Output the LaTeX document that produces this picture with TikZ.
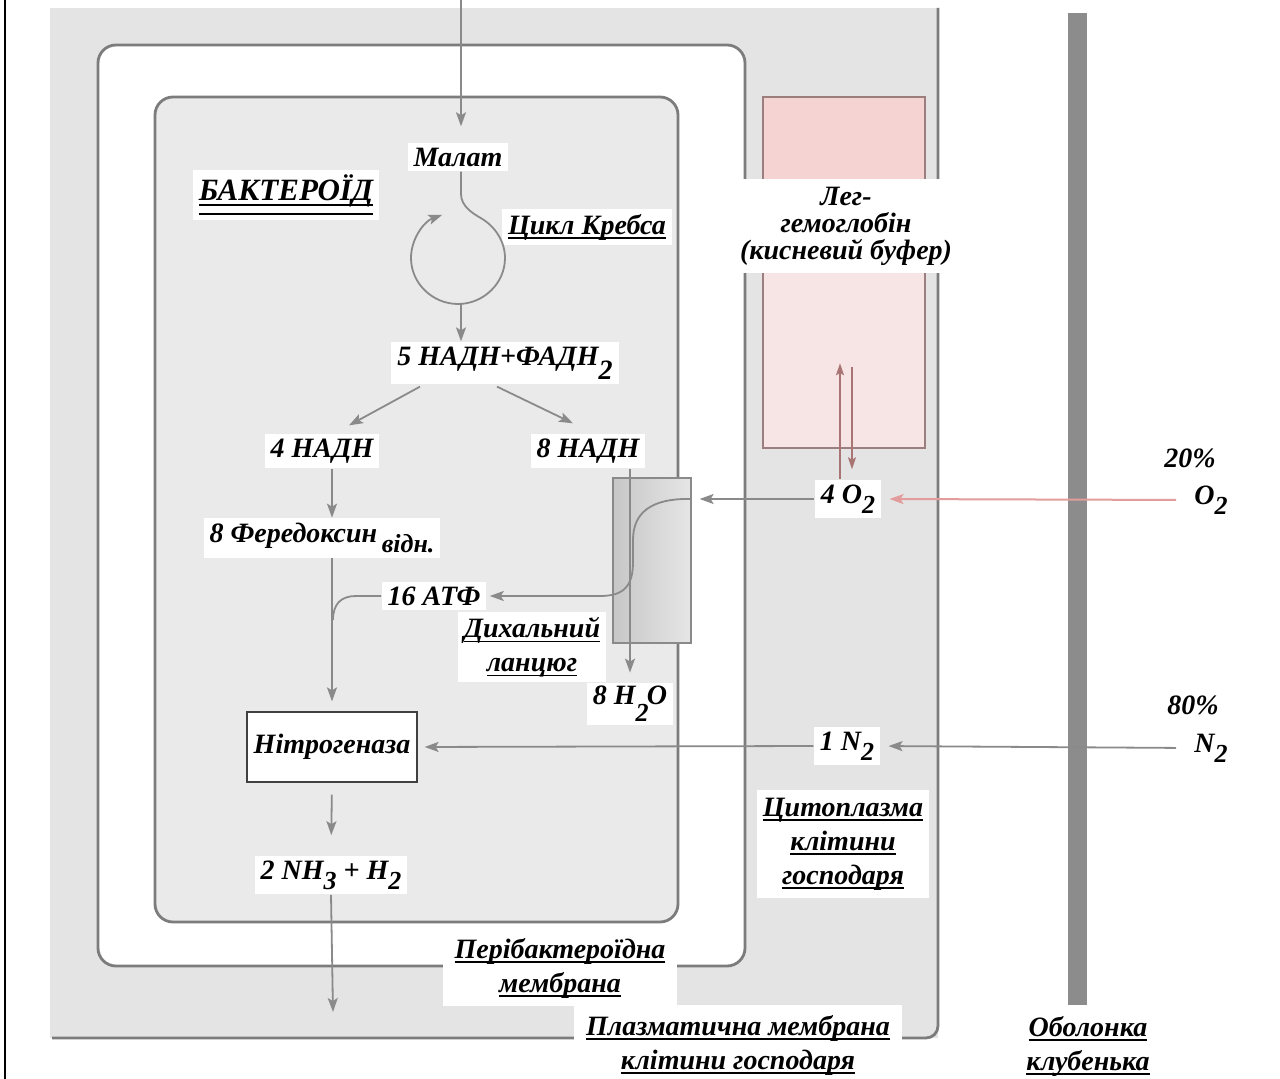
\documentclass[tikz,border=0pt]{standalone}
\usepackage{fontspec}
\setmainfont{Liberation Serif}
\usetikzlibrary{arrows.meta,calc}

\definecolor{hostgray}{HTML}{E4E4E4}
\definecolor{bactgray}{HTML}{EAEAEA}
\definecolor{memgray}{HTML}{7C7C7C}
\definecolor{flowgray}{HTML}{8A8A8A}
\definecolor{shellgray}{HTML}{8C8C8C}
\definecolor{pinktop}{HTML}{F5D3D3}
\definecolor{pinklow}{HTML}{F7E4E4}
\definecolor{pinkedge}{HTML}{9C7E7E}
\definecolor{oxred}{HTML}{E29C9C}
\definecolor{legarrow}{HTML}{A87474}

% label font and helpers
\newcommand\lf{\fontsize{14}{17}\selectfont\bfseries\itshape}
\newcommand\sbx[1]{\raisebox{-0.36em}{\fontsize{13}{13}\selectfont #1}}
\newcommand\sbl[1]{\raisebox{-0.5em}{#1}}
\newcommand\ulin[1]{\setbox0\hbox{#1}\rlap{\rule[-0.18em]{\wd0}{0.065em}}\box0}
\newcommand\dulin[1]{\setbox0\hbox{#1}\rlap{\rule[-0.15em]{\wd0}{0.06em}}\rlap{\rule[-0.45em]{\wd0}{0.06em}}\box0}

\tikzset{
  lbl/.style={fill=white, inner xsep=3pt, inner ysep=2.5pt, font=\lf, align=center},
  mem/.style={draw=memgray, line width=1.4pt},
  flowline/.style={draw=flowgray, line width=0.9pt},
  flow/.style={flowline, -{Stealth[length=7pt,width=5pt,inset=1.5pt]}},
  oxflow/.style={draw=oxred, line width=1pt, -{Stealth[length=7pt,width=5pt,inset=1.5pt]}},
  legflow/.style={draw=legarrow, line width=0.8pt, -{Stealth[length=6pt,width=4pt,inset=1.2pt]}},
}

\begin{document}
\begin{tikzpicture}[x=0.5pt,y=-0.5pt]
\useasboundingbox (0,0) rectangle (1280,1079);
\fill[white] (0,0) rectangle (1280,1079);

% frame line on the left
\draw[black, line width=1.2pt] (5,0) -- (5,1079);

% host cell cytoplasm
\fill[hostgray] (50,8) rectangle (938,1038);
% host plasma membrane
\draw[mem, rounded corners=6pt] (938,8) -- (938,1038) -- (52,1038);

% peribacteroid membrane and bacteroid
\draw[mem, fill=white, rounded corners=9pt] (98,45) rectangle (745,966);
\draw[mem, fill=bactgray, rounded corners=9pt] (155,97) rectangle (678,922);

% leghemoglobin compartment
\fill[pinklow] (763,97) rectangle (925,448);
\fill[pinktop] (763,97) rectangle (925,180);
\draw[pinkedge, line width=0.7pt] (763,97) rectangle (925,448);

% nodule shell
\fill[shellgray] (1068,13) rectangle (1087,1005);

% respiratory chain block
\node[draw=flowgray, line width=0.6pt, left color=black!22, right color=black!10,
      minimum width=39pt, minimum height=82.5pt, inner sep=0pt] (rbox) at (652,560.5) {};

% labels
\node[lbl] (malat) at (458,157) {Малат};
\node[lbl, font=\fontsize{15.5}{18}\selectfont\bfseries\itshape] (bact) at (286,195) {\dulin{БАКТЕРОЇД}};
\node[lbl] (krebs) at (587,227) {\ulin{Цикл Кребса}};
\node[lbl] (nadh5) at (505,363) {5 НАДН+ФАДН\sbl{2}};
\node[lbl] (nadh4) at (322,451) {4 НАДН};
\node[lbl] (nadh8) at (588,451) {8 НАДН};
\node[lbl] (fered) at (322,538) {8 Фередоксин\,\sbx{відн.}};
\node[lbl] (atp) at (434,596) {16 АТФ};
\node[lbl] (resp) at (532,647) {\ulin{Дихальний}\\\ulin{ланцюг}};
\node[lbl, inner ysep=1.5pt] (h2o) at (630,704) {8 H\raisebox{-0.62em}{\fontsize{13}{13}\selectfont 2}\kern-0.06em O};
\node[draw=black!75, line width=0.6pt, fill=white, font=\lf,
      minimum width=85pt, minimum height=35pt] (nitro) at (332,747) {Нітрогеназа};
\node[lbl] (nh3) at (331,875) {2 NH\sbx{3} + H\sbx{2}};
\node[lbl, inner xsep=6pt, inner ysep=4pt] (peri) at (560,968) {\ulin{Перібактероїдна}\\\ulin{мембрана}};
\node[lbl, inner xsep=6pt, inner ysep=5pt] (plasma) at (738,1045) {\ulin{Плазматична мембрана}\\\ulin{клітини господаря}};
\node[lbl, font=\fontsize{14}{13.5}\selectfont\bfseries\itshape, inner ysep=4pt] (leg) at (846,226) {Лег-\\гемоглобін\\(кисневий буфер)};
\node[lbl, inner ysep=4pt] (cyto) at (843,844) {\ulin{Цитоплазма}\\\ulin{клітини}\\\ulin{господаря}};
\node[lbl] (shell) at (1088,1046) {\ulin{Оболонка}\\\ulin{клубенька}};
\node[lbl] (o2in) at (848,499) {4 O\sbx{2}};
\node[lbl] (n2in) at (847,746) {1 N\sbx{2}};
\node[lbl, fill=none] (o2out) at (1211,500) {O\sbx{2}};
\node[lbl, fill=none] (n2out) at (1211,748) {N\sbx{2}};
\node[lbl, fill=none] (p20) at (1190,458) {20\%};
\node[lbl, fill=none] (p80) at (1193,705) {80\%};

% free ends
\coordinate (topin) at (461,0);
\coordinate (kexit) at (461,304);
\coordinate (outlet) at (333,1012);

% malate enters the Krebs cycle
\draw[flow, shorten >=8pt] (topin) -- (malat.north -| topin);
\draw[flow] (malat.south -| topin) -- (461,194)
  .. controls (461,206) and (472.3,213.2) .. (481,218.2)
  .. controls (495.2,226.4) and (505,241.6) .. (505,258)
  .. controls (505,283.4) and (483.4,304) .. (458,304)
  .. controls (432.6,304) and (411,283.4) .. (411,258)
  .. controls (411,238.7) and (424.2,221.4) .. (442.3,214.8);
\draw[flow] (kexit) -- (nadh5.north -| kexit);

% reduced cofactors
\draw[flow] ([xshift=-42.5pt,yshift=-1pt]nadh5.south) -- ([xshift=13.5pt,yshift=4pt]nadh4.north);
\draw[flow] ([xshift=-4pt,yshift=-1pt]nadh5.south) -- ([xshift=-7.5pt,yshift=5pt]nadh8.north);
\draw[flow] (nadh4.south -| nitro) -- (fered.north -| nitro);
\draw[flow, shorten >=5pt] (fered.south -| nitro) -- (nitro.north);
\draw[flowline] (atp.west) -- (356,596) .. controls (341,596) and (333,604) .. (333,620);

% respiratory chain
\draw[flow, shorten >=5pt] (nadh8.south -| h2o) -- (h2o.north);
\draw[flow, shorten >=1.5pt] (o2in.west -| rbox.east) .. controls (652,498) and (633,512) .. (633,540)
  -- (633,562) .. controls (633,586) and (624,596) .. (600,596) -- (atp.east);

% oxygen supply
\draw[oxflow, shorten >=4pt, shorten <=6pt] (o2out.west) -- (o2in.east);
\draw[flow, shorten >=4pt] (o2in.west) -- (o2in.west -| rbox.east);
\draw[legflow] ([xshift=-4pt]o2in.north) -- ++(0,-116);
\draw[legflow] ([xshift=2pt,yshift=56pt]o2in.north) -- ([xshift=2pt,yshift=5pt]o2in.north);

% nitrogen supply and fixation
\draw[flow, shorten >=4pt, shorten <=6pt] (n2out.west) -- (n2in.east);
\draw[flow, shorten >=3.5pt] (n2in.west) -- (nitro.east);
\draw[flow, shorten <=6pt, shorten >=10pt] (nitro.south) -- (nh3.north);
\draw[flow] (nh3.south) -- (outlet);
\end{tikzpicture}
\end{document}
